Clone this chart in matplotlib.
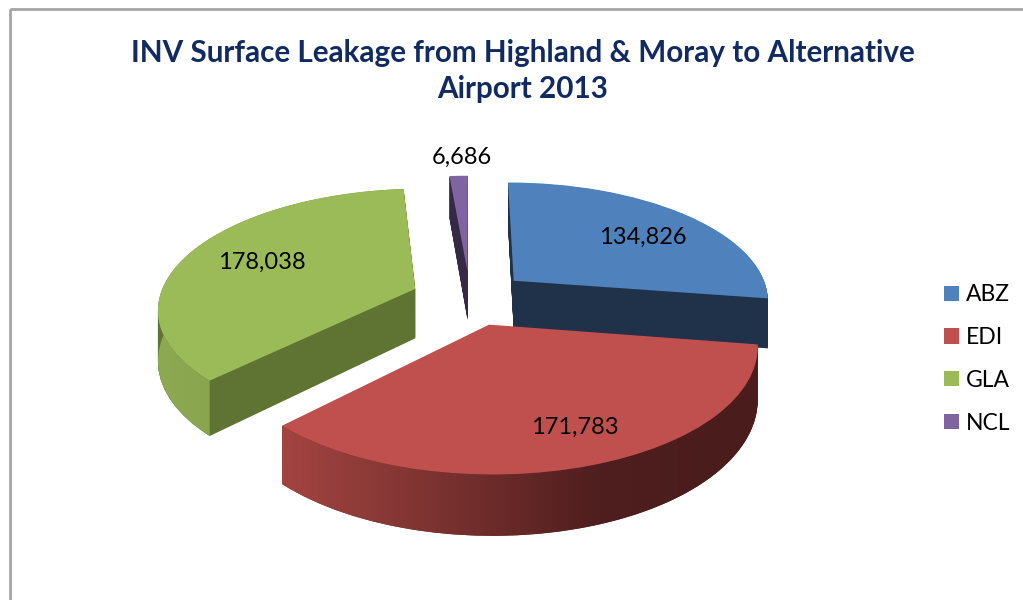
import numpy as np
import matplotlib
matplotlib.use('Agg')
import matplotlib.pyplot as plt
import matplotlib.transforms as mtransforms
from matplotlib.colors import LinearSegmentedColormap
from matplotlib.patches import Patch, Polygon, Rectangle

# data
airports = ['ABZ', 'EDI', 'GLA', 'NCL']
passengers = [134826, 171783, 178038, 6686]
title = 'INV Surface Leakage from Highland & Moray to Alternative\nAirport 2013'

top_colours = ['#4F81BD', '#C0504D', '#9BBB59', '#8064A2']
side_colours = ['#1F3249', '#6E2A29', '#5F7433', '#342A45']
depth = [1, 3, 2, 0]          # painter order, back (0) to front (3)
label_pos = [(643, 237), (575, 427), (262, 262), (462, 157)]   # pixels

# tilted pie geometry (pixels)
X0, Y0 = 470, 298
RX, RY = 256, 118
K = 0.152     # perspective
H = 50        # thickness
EXPLODE = 0.23

plt.rcParams['font.family'] = ['Lato', 'DejaVu Sans']


class Tilt(mtransforms.Transform):
    input_dims = 2
    output_dims = 2
    is_separable = False
    has_inverse = False

    def __init__(self, h):
        super().__init__()
        self.h = h

    def transform_non_affine(self, values):
        values = np.asarray(values, dtype=float)
        u, v = values[:, 0], values[:, 1]
        s = 1.0 / (1.0 + K * v)
        return np.column_stack([X0 + RX * u * s, Y0 + (H * self.h - RY * v) * s])


fig = plt.figure(figsize=(10.23, 6), dpi=100)
ax = fig.add_axes([0, 0, 1, 1])

n_layers = 80
heights = np.linspace(1, 0, n_layers + 1)
for k, h in enumerate(heights):
    top = k == n_layers
    wedges, _ = ax.pie(passengers, startangle=90, counterclock=False,
                       explode=[EXPLODE] * len(passengers),
                       colors=top_colours if top else side_colours,
                       labeldistance=None, wedgeprops={'linewidth': 0})
    for i, w in enumerate(wedges):
        w.set_transform(Tilt(h) + ax.transData)
        w.set_zorder(depth[i] * 10 + (5 if top else 1 + k / n_layers))
    if top:
        top_wedges = wedges

# shaded outer walls
walls = {1: ['#A34441', '#7A3230', '#4F1E1E', '#4A1C1C'],
         2: ['#8DAA52', '#7A9746']}
for i, stops in walls.items():
    w = top_wedges[i]
    t = np.radians(np.linspace(w.theta1, w.theta2, 200))
    pts = np.column_stack([w.center[0] + w.r * np.cos(t), w.center[1] + w.r * np.sin(t)])
    rim = np.vstack([Tilt(0).transform(pts), Tilt(1).transform(pts)[::-1]])
    clip = Polygon(rim, closed=True, transform=ax.transData, fc='none', ec='none')
    im = ax.imshow(np.linspace(0, 1, 256)[None, :],
                   cmap=LinearSegmentedColormap.from_list('wall%d' % i, stops),
                   extent=(rim[:, 0].min(), rim[:, 0].max(), rim[:, 1].max(), rim[:, 1].min()),
                   aspect='auto', interpolation='bilinear', zorder=depth[i] * 10 + 3)
    im.set_clip_path(clip)

# value labels
for i, (x, y) in enumerate(label_pos):
    ax.text(x, y, f'{passengers[i]:,}', ha='center', va='center', fontsize=17, color='black', zorder=100)

ax.add_patch(Rectangle((10, 9), 1100, 700, fill=False, ec='#A5A5A5', lw=2, zorder=0))

ax.set_xlim(0, 1023)
ax.set_ylim(600, 0)
ax.set_aspect('auto')
ax.axis('off')

fig.text(523 / 1023, 1 - 71 / 600, title, ha='center', va='center', fontsize=21.3,
         fontweight='bold', color='#112A62', linespacing=1.32)

handles = [Patch(facecolor=c) for c in top_colours]
fig.legend(handles, airports, loc='center left', bbox_to_anchor=(944 / 1023, 1 - 359 / 600),
           frameon=False, fontsize=16.5, handlelength=0.65, handleheight=0.65,
           handletextpad=0.3, labelspacing=0.95, borderpad=0, borderaxespad=0)

plt.savefig('out.png', dpi=100)
